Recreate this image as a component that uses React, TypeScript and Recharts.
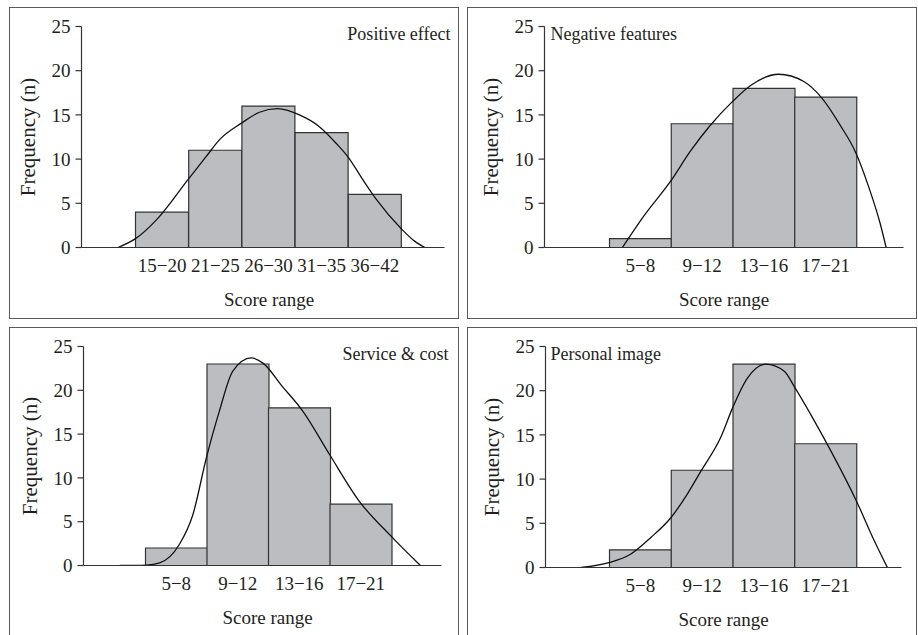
import React from 'react';
import { ComposedChart, Bar, Line, XAxis, YAxis, Label } from 'recharts';

const FONT = '"Liberation Serif", "Times New Roman", serif';
const INK = '#231f20';

// tick labels on the frequency axis
const freqTicks = [0, 5, 10, 15, 20, 25];

// Positive effect
const positiveRanges = ['15−20', '21−25', '26−30', '31−35', '36−42'];
const positiveCounts = [4, 11, 16, 13, 6];
const positiveCurveX = [-0.83, -0.5, -0.11, 0.49, 0.83, 1.08, 1.5, 1.83, 2.17, 2.58, 2.95, 3.27, 3.5, 3.77, 4.02, 4.5, 4.74, 4.94];
const positiveCurveY = [0, 1.0, 3.1, 7.7, 10.3, 12.2, 14.1, 15.3, 15.7, 15.0, 13.7, 11.8, 10.2, 7.7, 5.5, 2.1, 0.75, 0];

// Negative features
const negativeRanges = ['5−8', '9−12', '13−16', '17−21'];
const negativeCounts = [1, 14, 18, 17];
const negativeCurveX = [-0.29, 0.06, 0.49, 0.81, 1.13, 1.49, 1.78, 2.24, 2.64, 2.94, 3.23, 3.49, 3.71, 3.88, 3.98];
const negativeCurveY = [0, 3.6, 7.5, 10.9, 13.8, 16.5, 18.3, 19.6, 18.8, 16.9, 13.9, 10.7, 6.6, 2.8, 0];

// Service & cost
const serviceRanges = ['5−8', '9−12', '13−16', '17−21'];
const serviceCounts = [2, 23, 18, 7];
const serviceCurveX = [-0.92, -0.49, -0.27, 0.05, 0.27, 0.49, 0.7, 0.92, 1.22, 1.41, 1.73, 2.06, 2.49, 2.98, 3.5, 3.97];
const serviceCurveY = [0, 0.05, 0.3, 2.4, 5.8, 12.3, 17.6, 22.2, 23.7, 23.1, 20.4, 17.6, 12.7, 7.3, 3.3, 0];

// Personal image
const personalRanges = ['5−8', '9−12', '13−16', '17−21'];
const personalCounts = [2, 11, 23, 14];
const personalCurveX = [-0.96, -0.51, -0.16, 0.17, 0.49, 0.76, 0.98, 1.3, 1.49, 1.73, 2.03, 2.33, 2.49, 2.76, 3.03, 3.5, 3.79, 4.0];
const personalCurveY = [0, 0.55, 1.5, 3.4, 5.6, 8.3, 10.9, 14.7, 18.0, 21.4, 23.0, 22.2, 20.5, 17.3, 13.9, 7.5, 3.0, 0];

const BORDER = 1.5;

const YTitle = ({ viewBox }: any) => {
  const x = viewBox.x + viewBox.width - 54;
  const y = viewBox.y + viewBox.height / 2;
  return (
    <text x={x} y={y} transform={`rotate(-90 ${x} ${y})`} textAnchor="middle" dominantBaseline="central"
      fill={INK} fontSize={21} fontFamily={FONT}>
      Frequency (n)
    </text>
  );
};

const xTitle = (dx: number) => ({ viewBox }: any) => (
  <text x={viewBox.x + viewBox.width / 2 + dx} y={viewBox.y + 58} textAnchor="middle"
    fill={INK} fontSize={19} fontFamily={FONT}>
    Score range
  </text>
);

const Panel = ({ box, plot, pad, dx, ranges, counts, curveX, curveY, title }: any) => {
  const cw = box.w - 2 * BORDER;
  const ch = box.h - 2 * BORDER;
  const cl = box.x + BORDER;
  const ct = box.y + BORDER;
  const bars = ranges.map((r: string, i: number) => ({ range: r, n: counts[i] }));
  const curve = curveX.map((x: number, i: number) => ({ x, y: curveY[i] }));
  // curve axis spans the whole plot width, in units of one bar (bar i centred on i)
  const band = (plot.r - plot.l - pad.l - pad.r) / ranges.length;
  const curveDomain = [-0.5 - pad.l / band, ranges.length - 0.5 + pad.r / band];
  return (
    <div style={{ position: 'absolute', left: box.x, top: box.y, width: box.w, height: box.h,
      border: `${BORDER}px solid #5a5a5a`, boxSizing: 'border-box' }}>
      <ComposedChart width={cw} height={ch} data={bars} barCategoryGap={0} barGap={0}
        margin={{ left: 0, top: plot.t - ct, right: cl + cw - plot.r, bottom: ct + ch - plot.b - 70 }}>
        <XAxis xAxisId="bars" dataKey="range" interval={0} height={70} padding={{ left: pad.l, right: pad.r }}
          tickLine={false} axisLine={{ stroke: '#333', strokeWidth: 1.2 }} tickMargin={5}
          tick={{ fill: INK, fontSize: 19, fontFamily: FONT }} label={<Label content={xTitle(dx)} />} />
        <XAxis xAxisId="curve" dataKey="x" type="number" hide domain={curveDomain} allowDataOverflow />
        <YAxis width={plot.l - cl} domain={[0, 25]} ticks={freqTicks} interval={0} allowDataOverflow
          tickSize={6} tickMargin={5} axisLine={{ stroke: '#333', strokeWidth: 1.2 }}
          tickLine={{ stroke: '#333', strokeWidth: 1.2 }}
          tick={{ fill: INK, fontSize: 19, fontFamily: FONT }} label={<Label content={YTitle} />} />
        <Bar xAxisId="bars" dataKey="n" fill="#bcbdc1" stroke="#333" strokeWidth={1.2} isAnimationActive={false} />
        <Line xAxisId="curve" data={curve} dataKey="y" type="monotone" dot={false} activeDot={false}
          stroke="#111" strokeWidth={1.3} isAnimationActive={false} />
      </ComposedChart>
      <div style={{ position: 'absolute', top: title.baseline - 15 - box.y - BORDER,
        ...(title.right != null ? { right: box.x + box.w - title.right - BORDER } : { left: title.left - box.x - BORDER }),
        fontFamily: FONT, fontSize: 18, lineHeight: '18px', color: INK, whiteSpace: 'nowrap' }}>
        {title.text}
      </div>
    </div>
  );
};

export default function App() {
  return (
    <div style={{ position: 'absolute', left: 0, top: 0, width: 918, height: 635, overflow: 'hidden', background: '#fff' }}>
      <Panel box={{ x: 9, y: 7, w: 450, h: 312 }} plot={{ l: 82, r: 445, t: 27, b: 248 }} pad={{ l: 54, r: 43 }} dx={6}
        ranges={positiveRanges} counts={positiveCounts} curveX={positiveCurveX} curveY={positiveCurveY}
        title={{ text: 'Positive effect', right: 450, baseline: 40 }} />
      <Panel box={{ x: 467, y: 7, w: 450, h: 312 }} plot={{ l: 545, r: 904, t: 27, b: 248 }} pad={{ l: 65, r: 47 }} dx={0}
        ranges={negativeRanges} counts={negativeCounts} curveX={negativeCurveX} curveY={negativeCurveY}
        title={{ text: 'Negative features', left: 551, baseline: 40 }} />
      <Panel box={{ x: 9, y: 327, w: 450, h: 320 }} plot={{ l: 84, r: 442, t: 347, b: 566 }} pad={{ l: 62, r: 50 }} dx={5}
        ranges={serviceRanges} counts={serviceCounts} curveX={serviceCurveX} curveY={serviceCurveY}
        title={{ text: 'Service & cost', right: 448, baseline: 360 }} />
      <Panel box={{ x: 467, y: 327, w: 450, h: 320 }} plot={{ l: 546, r: 902, t: 347, b: 568 }} pad={{ l: 64, r: 45 }} dx={0}
        ranges={personalRanges} counts={personalCounts} curveX={personalCurveX} curveY={personalCurveY}
        title={{ text: 'Personal image', left: 551, baseline: 360 }} />
    </div>
  );
}
